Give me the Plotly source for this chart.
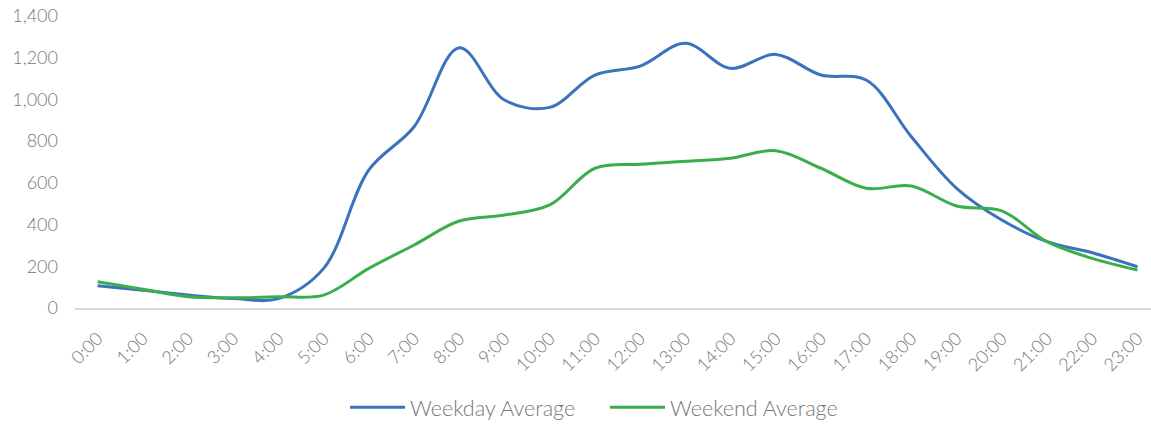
import plotly.graph_objects as go

hours = [f"{h}:00" for h in range(24)]
weekday = [107, 85, 62, 45, 45, 190, 662, 869, 1248, 997, 962, 1117, 1160, 1269,
           1149, 1216, 1117, 1093, 821, 574, 422, 318, 265, 198]
weekend = [126, 90, 54, 49, 54, 62, 190, 302, 417, 446, 494, 670, 689, 703,
           718, 754, 670, 574, 585, 489, 466, 318, 238, 182]

FONT = "Lato"
GREY = "#777777"

fig = go.Figure()
fig.add_trace(go.Scatter(x=hours, y=weekday, name="Weekday Average", mode="lines",
                         line=dict(color="#3A72BC", width=3, shape="spline", smoothing=1.0)))
fig.add_trace(go.Scatter(x=hours, y=weekend, name="Weekend Average", mode="lines",
                         line=dict(color="#3AAE4A", width=3, shape="spline", smoothing=1.0)))

fig.update_layout(
    width=1151, height=424,
    margin=dict(l=75, r=0, t=16, b=116, autoexpand=False),
    paper_bgcolor="white", plot_bgcolor="white",
    font=dict(family=FONT, color=GREY, size=17, weight=300),
    showlegend=True,
    legend=dict(orientation="h", x=0.4926, xanchor="center", y=-0.27, yanchor="top",
                font=dict(size=21.5, color=GREY, family=FONT, weight=300),
                entrywidth=190, itemwidth=55),
)
fig.update_xaxes(
    type="category", range=[-0.5, 23.3], automargin=False,
    showgrid=False, showline=True, linecolor="#d9d9d9", linewidth=2,
    tickangle=-45, ticks="", ticklabelstandoff=11,
    tickfont=dict(size=18, color=GREY, family=FONT, weight=300),
)
fig.update_yaxes(
    range=[0, 1400], tickvals=list(range(0, 1401, 200)), tickformat=",", automargin=False,
    showgrid=False, zeroline=False, showline=False, ticks="",
    ticklabelstandoff=16,
    tickfont=dict(size=18, color=GREY, family=FONT, weight=300),
)
fig.write_html("out.html", config={"displayModeBar": False},
               post_script="document.body.style.margin='0';")
